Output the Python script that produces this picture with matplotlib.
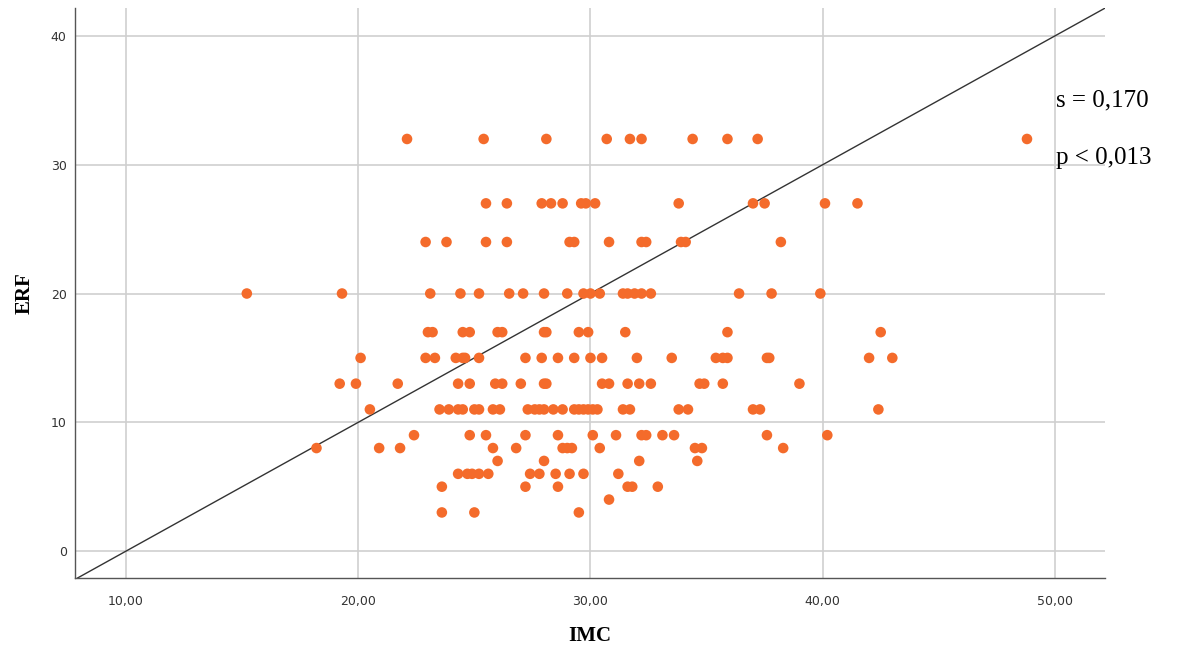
import matplotlib
matplotlib.use("Agg")
import matplotlib.pyplot as plt

# IMC values per ERF level
imc_32 = [22.1, 25.4, 28.1, 30.7, 31.7, 32.2, 34.4, 35.9, 37.2, 48.8]
imc_27 = [25.5, 26.4, 27.9, 28.3, 28.8, 29.6, 29.8, 30.2, 33.8, 37.0, 37.5, 40.1, 41.5]
imc_24 = [22.9, 23.8, 25.5, 26.4, 29.1, 29.3, 30.8, 32.2, 32.4, 33.9, 34.1, 38.2]
imc_20 = [15.2, 19.3, 23.1, 24.4, 25.2, 26.5, 27.1, 28.0, 29.0, 29.7, 30.0, 30.4,
          31.4, 31.6, 31.9, 32.2, 32.6, 36.4, 37.8, 39.9]
imc_17 = [23.0, 23.2, 24.5, 24.8, 26.0, 26.2, 28.0, 28.1, 29.5, 29.9, 31.5, 35.9, 42.5]
imc_15 = [20.1, 22.9, 23.3, 24.2, 24.5, 24.6, 25.2, 27.2, 27.9, 28.6, 29.3, 30.0,
          30.5, 32.0, 33.5, 35.4, 35.7, 35.9, 37.6, 37.7, 42.0, 43.0]
imc_13 = [19.2, 19.9, 21.7, 24.3, 24.8, 25.9, 26.2, 27.0, 28.0, 28.1, 30.5, 30.8,
          31.6, 32.1, 32.6, 34.7, 34.9, 35.7, 39.0]
imc_11 = [20.5, 23.5, 23.9, 24.3, 24.5, 25.0, 25.2, 25.8, 26.1, 27.3, 27.6, 27.8,
          28.0, 28.4, 28.8, 29.3, 29.5, 29.7, 29.9, 30.1, 30.3, 31.4, 31.7, 33.8,
          34.2, 37.0, 37.3, 42.4]
imc_9 = [22.4, 24.8, 25.5, 27.2, 28.6, 30.1, 31.1, 32.2, 32.4, 33.1, 33.6, 37.6, 40.2]
imc_8 = [18.2, 20.9, 21.8, 25.8, 26.8, 28.8, 29.0, 29.2, 30.4, 34.5, 34.8, 38.3]
imc_7 = [26.0, 28.0, 32.1, 34.6]
imc_6 = [24.3, 24.7, 24.9, 25.2, 25.6, 27.4, 27.8, 28.5, 29.1, 29.7, 31.2]
imc_5 = [23.6, 27.2, 28.6, 31.6, 31.8, 32.9]
imc_4 = [30.8]
imc_3 = [23.6, 25.0, 29.5]

erf_levels = [32, 27, 24, 20, 17, 15, 13, 11, 9, 8, 7, 6, 5, 4, 3]
imc_groups = [imc_32, imc_27, imc_24, imc_20, imc_17, imc_15, imc_13, imc_11,
              imc_9, imc_8, imc_7, imc_6, imc_5, imc_4, imc_3]

x_ticks = [10, 20, 30, 40, 50]
y_ticks = [0, 10, 20, 30, 40]
stat_lines = ["s = 0,170", "p < 0,013"]

imc = [v for grp in imc_groups for v in grp]
erf = [lvl for lvl, grp in zip(erf_levels, imc_groups) for _ in grp]

fig = plt.figure(figsize=(11.8, 6.5), dpi=100)
ax = fig.add_axes([75 / 1180, 1 - 578 / 650, 1030 / 1180, 570 / 650])

ax.set_xlim(7.80, 52.16)
ax.set_ylim(-2.09, 42.17)

ax.grid(True, color="#cfcfcf", linewidth=1.2)
ax.set_axisbelow(True)

# reference line
ax.axline((10, 0), (50, 40), color="#333333", linewidth=1.0, zorder=2)

ax.scatter(imc, erf, s=58, color="#f46b2b", edgecolors="none", zorder=3)

ax.set_xticks(x_ticks)
ax.set_xticklabels([f"{t:.2f}".replace(".", ",") for t in x_ticks])
ax.set_yticks(y_ticks)
ax.tick_params(length=0, labelsize=9, colors="#333333")
ax.tick_params(axis="x", pad=12)
ax.tick_params(axis="y", pad=6)

for side in ["top", "right"]:
    ax.spines[side].set_visible(False)
for side in ["left", "bottom"]:
    ax.spines[side].set_color("#555555")
    ax.spines[side].set_linewidth(1.0)

fig.text(590 / 1180, 1 - 636 / 650, "IMC", family="Liberation Serif",
         fontweight="bold", fontsize=15, ha="center", va="center")
fig.text(25 / 1180, 1 - 293 / 650, "ERF", family="Liberation Serif",
         fontweight="bold", fontsize=15, ha="center", va="center", rotation=90)

fig.text(1056 / 1180, 1 - 100 / 650, stat_lines[0], family="Liberation Serif",
         fontsize=18, ha="left", va="center")
fig.text(1056 / 1180, 1 - 158 / 650, stat_lines[1], family="Liberation Serif",
         fontsize=18, ha="left", va="center")

fig.savefig("out.png", dpi=100)
